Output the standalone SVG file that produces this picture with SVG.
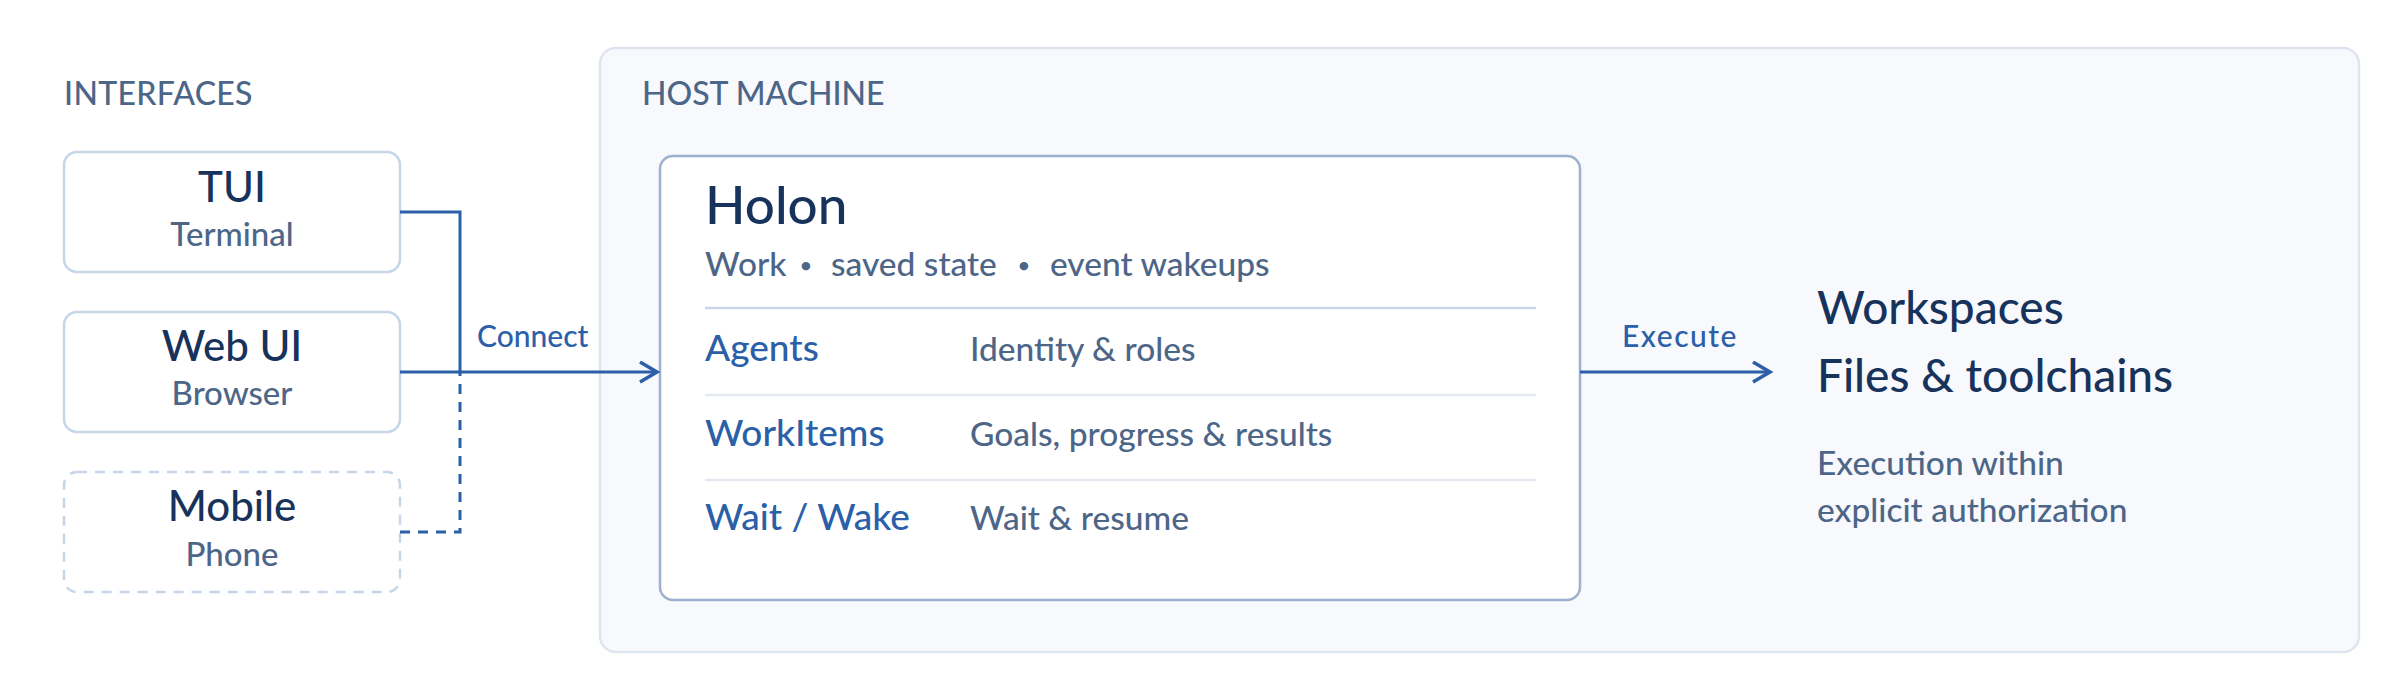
<svg xmlns="http://www.w3.org/2000/svg" width="2400" height="700" viewBox="0 0 2400 700">
<style>
text{font-family:Lato,"Noto Sans","Liberation Sans",sans-serif;font-weight:500}
.sec{font-size:32px;fill:#4d6688}
.ttl{font-size:42px;fill:#17335c;text-anchor:middle}
.sub{font-size:33px;fill:#4d6688;text-anchor:middle}
.box{fill:#ffffff;stroke:#c7d5e8;stroke-width:2.5}
.boxd{fill:#ffffff;stroke:#c7d5e8;stroke-width:2.5;stroke-dasharray:10 8}
.row{font-size:37px;fill:#2b5fa8}
.desc{font-size:33.5px;fill:#4d6688}
.lbl{font-size:30px;fill:#2b5fa8}
.conn{fill:none;stroke:#2b5fa8;stroke-width:3}
.div{stroke:#e3e9f1;stroke-width:2.5}
</style>
<defs>
<marker id="arr" markerWidth="24" markerHeight="24" refX="19" refY="11" orient="auto" markerUnits="userSpaceOnUse" viewBox="0 0 24 24">
<path d="M2 1 L19 11 L2 21" fill="none" stroke="#2b5fa8" stroke-width="3.5" stroke-linecap="butt"/>
</marker>
</defs>
<rect width="2400" height="700" fill="#ffffff"/>

<g id="host">
<rect x="600" y="48" width="1759" height="604" rx="16" fill="#f7f9fc" stroke="#dfe5ee" stroke-width="2.5"/>
<text class="sec" x="642" y="105">HOST MACHINE</text>
</g>

<g id="interfaces-label">
<text class="sec" x="64" y="105" letter-spacing="0.3">INTERFACES</text>
</g>

<g id="tui">
<rect class="box" x="64" y="152" width="336" height="120" rx="13"/>
<text class="ttl" x="232" y="202">TUI</text>
<text class="sub" x="232" y="246">Terminal</text>
</g>

<g id="webui">
<rect class="box" x="64" y="312" width="336" height="120" rx="13"/>
<text class="ttl" x="232" y="361">Web UI</text>
<text class="sub" x="232" y="405">Browser</text>
</g>

<g id="mobile">
<rect class="boxd" x="64" y="472" width="336" height="120" rx="13"/>
<text class="ttl" x="232" y="521">Mobile</text>
<text class="sub" x="232" y="566">Phone</text>
</g>

<g id="holon">
<rect x="660" y="156" width="920" height="444" rx="13" fill="#ffffff" stroke="#9cb0cf" stroke-width="2.5"/>
<text x="705" y="224" font-size="53" fill="#17335c">Holon</text>
<text class="desc" x="705" y="276">Work<tspan x="806" text-anchor="middle" font-size="22" dy="-3">•</tspan><tspan x="831" dy="3">saved state</tspan><tspan x="1024" text-anchor="middle" font-size="22" dy="-3">•</tspan><tspan x="1050" dy="3">event wakeups</tspan></text>
<line x1="705" y1="308" x2="1536" y2="308" stroke="#c9d6e8" stroke-width="2.5"/>
<text class="row" x="705" y="361">Agents</text>
<text class="desc" x="970" y="361">Identity &amp; roles</text>
<line class="div" x1="705" y1="395" x2="1536" y2="395"/>
<text class="row" x="705" y="446">WorkItems</text>
<text class="desc" x="970" y="446">Goals, progress &amp; results</text>
<line class="div" x1="705" y1="480" x2="1536" y2="480"/>
<text class="row" x="705" y="530">Wait / Wake</text>
<text class="desc" x="970" y="530">Wait &amp; resume</text>
</g>

<g id="workspaces">
<text x="1817" y="324" font-size="46" fill="#17335c">Workspaces</text>
<text x="1817" y="392" font-size="46" fill="#17335c">Files &amp; toolchains</text>
<text class="desc" x="1817" y="475">Execution within</text>
<text class="desc" x="1817" y="522">explicit authorization</text>
</g>

<g id="connectors">
<path class="conn" d="M400 212 H460 V372"/>
<path class="conn" d="M400 532 H460 V372" stroke-dasharray="10 8"/>
<path class="conn" d="M400 372 H657" marker-end="url(#arr)"/>
<text class="lbl" x="477" y="347">Connect</text>
<path class="conn" d="M1580 372 H1770" marker-end="url(#arr)"/>
<text class="lbl" x="1622" y="347" font-size="31" letter-spacing="1.5">Execute</text>
</g>
</svg>
